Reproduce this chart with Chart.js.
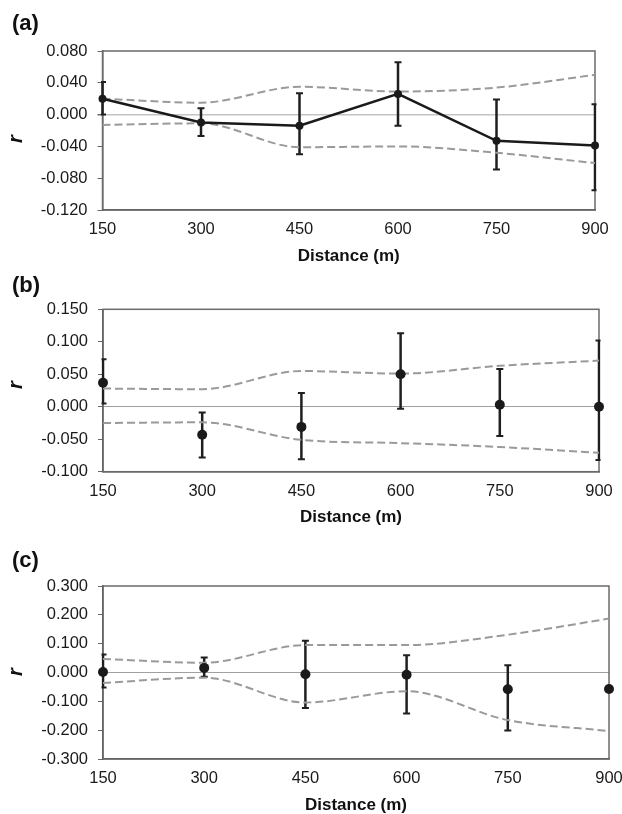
<!DOCTYPE html>
<html><head><meta charset="utf-8">
<script src="https://cdn.jsdelivr.net/npm/chart.js@4.4.0/dist/chart.umd.min.js"></script>
<style>
html,body{margin:0;padding:0;background:#fff;overflow:hidden}
#wrap{position:relative;width:622px;height:814px;background:#fff}
canvas{position:absolute;left:0}
.plab{position:absolute;left:12px;font:bold 22px 'Liberation Sans',Arial,sans-serif;line-height:26px;height:26px;color:#111}
.ylab{position:absolute;left:5px;width:20px;height:20px;font:italic bold 20px 'Liberation Sans',Arial,sans-serif;line-height:20px;text-align:center;transform:rotate(-90deg);color:#111}
</style></head>
<body><div id="wrap">
<canvas id="ca" width="622" height="280" style="top:0px;width:622px;height:280px"></canvas>
<canvas id="cb" width="622" height="280" style="top:270px;width:622px;height:280px"></canvas>
<canvas id="cc" width="622" height="280" style="top:540px;width:622px;height:280px"></canvas>
<div class="plab" style="top:10px">(a)</div>
<div class="plab" style="top:272px">(b)</div>
<div class="plab" style="top:547px">(c)</div>
<div class="ylab" style="top:129px">r</div>
<div class="ylab" style="top:375px">r</div>
<div class="ylab" style="top:662px">r</div>
</div>
<script>
// ---- data ----
const distances = ['150', '300', '450', '600', '750', '900'];

const yTicksA = [-0.12, -0.08, -0.04, 0, 0.04, 0.08];
const meanA    = [0.020, -0.010, -0.014, 0.026, -0.033, -0.039];
const errHighA = [0.041, 0.008, 0.027, 0.066, 0.019, 0.013];
const errLowA  = [0.000, -0.027, -0.050, -0.014, -0.069, -0.095];
const upperA   = [0.020, 0.015, 0.035, 0.029, 0.034, 0.050];
const lowerA   = [-0.013, -0.011, -0.041, -0.040, -0.048, -0.061];

const yTicksB = [-0.10, -0.05, 0, 0.05, 0.10, 0.15];
const meanB    = [0.037, -0.043, -0.031, 0.050, 0.003, 0.000];
const errHighB = [0.073, -0.009, 0.021, 0.113, 0.058, 0.102];
const errLowB  = [0.005, -0.078, -0.081, -0.003, -0.045, -0.082];
const upperB   = [0.028, 0.027, 0.055, 0.051, 0.063, 0.071];
const lowerB   = [-0.025, -0.024, -0.051, -0.056, -0.062, -0.071];

const yTicksC = [-0.3, -0.2, -0.1, 0, 0.1, 0.2, 0.3];
const meanC    = [0.002, 0.016, -0.006, -0.008, -0.058, -0.057];
const errHighC = [0.062, 0.052, 0.110, 0.060, 0.025, null];
const errLowC  = [-0.052, -0.015, -0.123, -0.142, -0.201, null];
const upperC   = [0.047, 0.034, 0.095, 0.095, 0.131, 0.187];
const lowerC   = [-0.036, -0.018, -0.104, -0.065, -0.165, -0.203];

// ---- helpers ----
const FONT = "'Liberation Sans', Arial, sans-serif";

const boxAndErrors = {
  id: 'boxerr',
  beforeDatasetsDraw(chart, args, opts) {
    const {ctx, chartArea: a, scales: {x, y}} = chart;
    ctx.save();
    ctx.strokeStyle = '#6b6b6b';
    ctx.lineWidth = 1.5;
    ctx.strokeRect(a.left, a.top, a.right - a.left, a.bottom - a.top);
    ctx.restore();
    const low = opts.low || [], high = opts.high || [];
    ctx.save();
    ctx.beginPath();
    ctx.rect(a.left - 1.5, a.top - 3, a.right - a.left + 3, a.bottom - a.top + 6);
    ctx.clip();
    ctx.strokeStyle = '#1f1f1f';
    for (let i = 0; i < low.length; i++) {
      if (low[i] == null || high[i] == null) continue;
      const px = x.getPixelForValue(i);
      const yl = y.getPixelForValue(low[i]);
      const yh = y.getPixelForValue(high[i]);
      ctx.lineWidth = 2.5;
      ctx.beginPath(); ctx.moveTo(px, yl); ctx.lineTo(px, yh); ctx.stroke();
      ctx.lineWidth = 2;
      ctx.beginPath();
      ctx.moveTo(px - 3.5, yl); ctx.lineTo(px + 3.5, yl);
      ctx.moveTo(px - 3.5, yh); ctx.lineTo(px + 3.5, yh);
      ctx.stroke();
    }
    ctx.restore();
  }
};

function makeChart(id, cfg) {
  const datasets = [
    {
      data: cfg.mean, showLine: cfg.line, borderColor: '#1a1a1a', borderWidth: 2.5,
      pointRadius: cfg.r, pointHoverRadius: cfg.r, pointBackgroundColor: '#1a1a1a',
      pointBorderWidth: 0, tension: 0, clip: false, fill: false
    },
    {
      data: cfg.upper, borderColor: '#9a9a9a', borderWidth: 2, borderDash: [8, 4],
      pointRadius: 0, cubicInterpolationMode: 'monotone', fill: false
    },
    {
      data: cfg.lower, borderColor: '#9a9a9a', borderWidth: 2, borderDash: [8, 4],
      pointRadius: 0, cubicInterpolationMode: 'monotone', fill: false
    }
  ];
  return new Chart(document.getElementById(id), {
    type: 'line',
    data: {labels: distances, datasets},
    plugins: [boxAndErrors],
    options: {
      responsive: false, animation: false, devicePixelRatio: 1,
      layout: {padding: {top: cfg.top, right: cfg.right, left: 0, bottom: 0}},
      plugins: {
        legend: {display: false}, tooltip: {enabled: false}, title: {display: false},
        boxerr: {low: cfg.low, high: cfg.high}
      },
      scales: {
        x: {
          type: 'category', offset: false,
          grid: {display: false, drawTicks: false},
          border: {display: true, color: '#505050', width: 1.5},
          ticks: {color: '#1a1a1a', font: {family: FONT, size: 16.5}, padding: 10, maxRotation: 0, autoSkip: false},
          title: {display: true, text: 'Distance (m)', color: '#111',
                  font: {family: FONT, size: 17, weight: 'bold'}, padding: {top: 0, bottom: cfg.tpad}},
          afterFit: s => { s.height = cfg.xh; s.paddingLeft = 0; s.paddingRight = 0; }
        },
        y: {
          min: cfg.ticks[0], max: cfg.ticks[cfg.ticks.length - 1],
          afterBuildTicks: s => { s.ticks = cfg.ticks.map(v => ({value: v})); },
          afterFit: s => { s.width = cfg.left; },
          ticks: {color: '#1a1a1a', font: {family: FONT, size: 16.5}, padding: 10,
                  callback: v => Number(v).toFixed(3)},
          grid: {
            color: c => (c.tick && c.tick.value === 0) ? cfg.zeroColor : 'rgba(0,0,0,0)',
            lineWidth: c => (c.tick && c.tick.value === 0) ? cfg.zeroWidth : 1,
            tickColor: '#666', tickLength: 5, drawTicks: true
          },
          border: {display: true, color: '#505050', width: 1.5}
        }
      }
    }
  });
}

makeChart('ca', {mean: meanA, upper: upperA, lower: lowerA, low: errLowA, high: errHighA,
  ticks: yTicksA, line: true, r: 4, top: 51, right: 27, left: 102.5, xh: 70, tpad: 13,
  zeroColor: '#c4c4c4', zeroWidth: 1.5});
makeChart('cb', {mean: meanB, upper: upperB, lower: lowerB, low: errLowB, high: errHighB,
  ticks: yTicksB, line: false, r: 5, top: 39.3, right: 23, left: 103, xh: 78.3, tpad: 22.5,
  zeroColor: '#a0a0a0', zeroWidth: 1});
makeChart('cc', {mean: meanC, upper: upperC, lower: lowerC, low: errLowC, high: errHighC,
  ticks: yTicksC, line: false, r: 5, top: 46, right: 13, left: 103, xh: 61, tpad: 4.8,
  zeroColor: '#a0a0a0', zeroWidth: 1});
</script>
</body></html>
